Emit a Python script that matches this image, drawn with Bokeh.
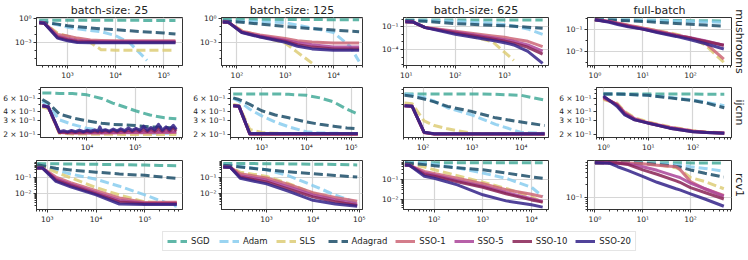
import numpy as np
from bokeh.plotting import figure
from bokeh.layouts import column, row
from bokeh.models import (Range1d, FixedTicker, CustomJSTickFormatter, Legend,
                          LegendItem, Title)
from bokeh.embed import file_html
from bokeh.resources import INLINE

METHODS = ["SGD", "Adam", "SLS", "Adagrad", "SSO-1", "SSO-5", "SSO-10", "SSO-20"]
DATASETS = ["mushrooms", "ijcnn", "rcv1"]
COL_TITLES = ["batch-size: 25", "batch-size: 125", "batch-size: 625", "full-batch"]

# ---------------- mushrooms ----------------
mush25_x = [260, 330, 620, 1000, 1600, 3000, 5000, 1e4, 2e4, 4.5e4, 1e5, 1.75e5]
mush25_y = {
    "SGD":     [0.58, 0.58, 0.58, 0.57, 0.57, 0.57, 0.56, 0.56, 0.56, 0.55, 0.55, 0.55],
    "Adam":    [0.4, 0.35, 0.16, 0.08, 0.05, 0.03, 0.022, 0.007, 8e-4, 6e-6, None, None],
    "SLS":     [0.28, 0.25, 0.015, 0.006, 0.0028, 0.001, 1.3e-4, 1.1e-4, 1.1e-4, 1.1e-4, 1.1e-4, 1.1e-4],
    "Adagrad": [0.34, 0.3, 0.19, 0.12, 0.09, 0.065, 0.05, 0.038, 0.028, 0.02, 0.015, 0.0115],
    "SSO-1":   [0.28, 0.26, 0.01, 0.0063, 0.0035, 0.002, 0.0018, 0.0017, 0.0017, 0.0017, 0.0017, 0.0017],
    "SSO-5":   [0.28, 0.25, 0.006, 0.003, 0.0018, 0.0014, 0.0013, 0.0013, 0.0013, 0.0013, 0.0013, 0.0013],
    "SSO-10":  [0.28, 0.25, 0.0045, 0.0022, 0.0013, 0.0012, 0.0011, 0.0011, 0.0011, 0.0011, 0.0011, 0.0011],
    "SSO-20":  [0.28, 0.25, 0.0035, 0.0016, 0.001, 9e-4, 9e-4, 9e-4, 9e-4, 9e-4, 9e-4, 9e-4],
}

mush125_x = [51, 66, 126, 300, 1000, 1800, 3600, 1e4, 2.2e4, 3.4e4]
mush125_y = {
    "SGD":     [0.7, 0.7, 0.7, 0.7, 0.69, 0.69, 0.69, 0.68, 0.68, 0.68],
    "Adam":    [0.45, 0.45, 0.42, 0.36, 0.29, 0.14, 0.063, 0.017, 3.3e-4, 4e-6],
    "SLS":     [0.35, 0.3, 0.03, 0.006, 8e-4, 5.5e-5, 2.5e-6, None, None, None],
    "Adagrad": [0.46, 0.44, 0.33, 0.19, 0.095, 0.07, 0.05, 0.034, 0.025, 0.021],
    "SSO-1":   [0.35, 0.33, 0.025, 0.008, 0.003, 0.0016, 0.0011, 8e-4, 8e-4, 8e-4],
    "SSO-5":   [0.35, 0.33, 0.02, 0.006, 0.0018, 9e-4, 5e-4, 2.6e-4, 2.5e-4, 2.5e-4],
    "SSO-10":  [0.35, 0.33, 0.018, 0.005, 0.0014, 5e-4, 2.5e-4, 1.5e-4, 1.45e-4, 1.45e-4],
    "SSO-20":  [0.35, 0.33, 0.017, 0.0045, 0.001, 3.2e-4, 1.5e-4, 1e-4, 1e-4, 1e-4],
}

mush625_x = [9.6, 13.5, 24.5, 100, 580, 1000, 1550, 3000, 6000]
mush625_y = {
    "SGD":     [0.75, 0.75, 0.75, 0.75, 0.74, 0.74, 0.73, 0.73, 0.72],
    "Adam":    [0.63, 0.62, 0.6, 0.5, 0.27, 0.19, 0.12, 0.05, 0.01],
    "SLS":     [0.45, 0.42, 0.08, 0.02, 0.001, 4.6e-5, 4e-6, None, None],
    "Adagrad": [0.63, 0.6, 0.5, 0.25, 0.15, 0.13, 0.11, 0.085, 0.063],
    "SSO-1":   [0.45, 0.42, 0.076, 0.025, 0.006, 0.004, 0.0025, 0.0012, 2.5e-4],
    "SSO-5":   [0.45, 0.42, 0.075, 0.02, 0.0035, 0.002, 0.0012, 4e-4, 6.3e-5],
    "SSO-10":  [0.45, 0.42, 0.075, 0.015, 0.0025, 0.0013, 7e-4, 2e-4, 2.5e-5],
    "SSO-20":  [0.45, 0.42, 0.075, 0.01, 0.0015, 8e-4, 4e-4, 6e-5, 1.6e-6],
}

mushfull_x = [1, 2, 3, 5, 10, 20, 50, 100, 200, 500]
mushfull_y = {
    "SGD":     [0.69, 0.68, 0.67, 0.66, 0.64, 0.62, 0.6, 0.58, 0.57, 0.55],
    "Adam":    [0.69, 0.68, 0.67, 0.65, 0.62, 0.58, 0.52, 0.48, 0.45, 0.42],
    "SLS":     [0.69, 0.5, 0.35, 0.22, 0.13, 0.075, 0.035, 0.016, 0.004, 1e-4],
    "Adagrad": [0.69, 0.66, 0.63, 0.58, 0.5, 0.42, 0.32, 0.27, 0.23, 0.19],
    "SSO-1":   [0.69, 0.5, 0.36, 0.23, 0.13, 0.07, 0.03, 0.016, 0.006, 2e-4],
    "SSO-5":   [0.69, 0.48, 0.33, 0.2, 0.11, 0.06, 0.028, 0.017, 0.009, 0.0035],
    "SSO-10":  [0.69, 0.46, 0.3, 0.18, 0.1, 0.055, 0.025, 0.015, 0.008, 0.0035],
    "SSO-20":  [0.69, 0.42, 0.26, 0.16, 0.1, 0.05, 0.022, 0.011, 0.005, 0.0016],
}

# ---------------- ijcnn ----------------
ijcnn25_x = [1200, 1600, 2700, 5000, 1e4, 2e4, 3.4e4, 6e4, 1e5, 2e5, 4e5, 7e5]
ijcnn25_y = {
    "SGD":     [0.71, 0.71, 0.7, 0.7, 0.67, 0.6, 0.52, 0.46, 0.41, 0.36, 0.33, 0.32],
    "Adam":    [0.55, 0.48, 0.31, 0.27, 0.24, 0.225, 0.22, 0.215, 0.21, 0.207, 0.205, 0.205],
    "SLS":     [0.46, 0.44, 0.205, 0.2, 0.2, 0.199, 0.199, 0.198, 0.198, 0.198, 0.198, 0.198],
    "Adagrad": [0.58, 0.52, 0.37, 0.33, 0.3, 0.28, 0.27, 0.265, 0.26, 0.25, 0.245, 0.24],
    "SSO-1":   [0.48, 0.46, 0.21, 0.206, 0.206, 0.207, 0.207, 0.208, 0.208, 0.209, 0.21, 0.21],
    "SSO-5":   [0.48, 0.46, 0.21, 0.208, 0.208, 0.209, 0.21, 0.211, 0.212, 0.213, 0.214, 0.215],
}
ijcnn25_xn = [1200, 1600, 2700, 3300, 4000, 4800, 5800, 7000, 8500, 1.0e4, 1.2e4, 1.45e4,
              1.7e4, 1.85e4, 2.0e4, 2.4e4, 2.9e4, 3.5e4, 4.2e4, 5.0e4, 6.0e4, 7.2e4, 8.6e4,
              1.03e5, 1.23e5, 1.48e5, 1.77e5, 2.1e5, 2.5e5, 3.0e5, 3.6e5, 4.3e5, 5.1e5, 6.1e5, 7.0e5]
ijcnn25_yn = {
    "SSO-10": [0.48, 0.46, 0.21, 0.214, 0.209, 0.216, 0.21, 0.215, 0.211, 0.218, 0.212, 0.219,
               0.213, 0.22, 0.212, 0.222, 0.213, 0.224, 0.214, 0.226, 0.215, 0.228, 0.216,
               0.23, 0.216, 0.232, 0.217, 0.233, 0.218, 0.236, 0.218, 0.238, 0.219, 0.24, 0.22],
    "SSO-20": [0.48, 0.46, 0.215, 0.222, 0.214, 0.224, 0.216, 0.226, 0.215, 0.225, 0.218, 0.228,
               0.22, 0.25, 0.222, 0.229, 0.219, 0.233, 0.221, 0.236, 0.222, 0.242, 0.224,
               0.238, 0.226, 0.255, 0.225, 0.245, 0.228, 0.27, 0.226, 0.25, 0.23, 0.262, 0.232],
}

ijcnn125_x = [230, 310, 540, 1000, 2000, 4000, 1e4, 2e4, 4e4, 8e4, 1.4e5]
ijcnn125_y = {
    "SGD":     [0.69, 0.69, 0.69, 0.69, 0.69, 0.68, 0.66, 0.61, 0.54, 0.43, 0.37],
    "Adam":    [0.6, 0.55, 0.43, 0.35, 0.29, 0.25, 0.215, 0.207, 0.205, 0.204, 0.204],
    "SLS":     [0.5, 0.48, 0.23, 0.21, 0.205, 0.203, 0.202, 0.201, 0.201, 0.201, 0.201],
    "Adagrad": [0.61, 0.58, 0.5, 0.41, 0.36, 0.33, 0.29, 0.27, 0.255, 0.242, 0.235],
    "SSO-1":   [0.48, 0.47, 0.2, 0.199, 0.199, 0.199, 0.199, 0.199, 0.199, 0.199, 0.199],
    "SSO-5":   [0.48, 0.47, 0.2, 0.2, 0.2, 0.2, 0.2, 0.2, 0.2, 0.2, 0.2],
    "SSO-10":  [0.48, 0.47, 0.201, 0.201, 0.201, 0.201, 0.201, 0.201, 0.201, 0.201, 0.201],
    "SSO-20":  [0.48, 0.47, 0.203, 0.203, 0.203, 0.203, 0.203, 0.203, 0.203, 0.203, 0.203],
}

ijcnn625_x = [42, 60, 105, 170, 316, 1000, 3000, 1e4, 3e4]
ijcnn625_y = {
    "SGD":     [0.69, 0.69, 0.69, 0.69, 0.69, 0.69, 0.68, 0.66, 0.57],
    "Adam":    [0.69, 0.67, 0.62, 0.55, 0.45, 0.36, 0.27, 0.21, 0.205],
    "SLS":     [0.52, 0.51, 0.3, 0.26, 0.235, 0.205, 0.202, 0.2, 0.2],
    "Adagrad": [0.66, 0.64, 0.59, 0.54, 0.47, 0.4, 0.33, 0.29, 0.26],
    "SSO-1":   [0.48, 0.47, 0.21, 0.2, 0.2, 0.2, 0.2, 0.2, 0.2],
    "SSO-5":   [0.48, 0.47, 0.21, 0.2, 0.2, 0.2, 0.2, 0.2, 0.2],
    "SSO-10":  [0.48, 0.47, 0.21, 0.201, 0.201, 0.201, 0.201, 0.201, 0.201],
    "SSO-20":  [0.48, 0.47, 0.212, 0.202, 0.202, 0.202, 0.202, 0.202, 0.202],
}

ijcnnfull_x = [1, 2, 3, 5, 10, 30, 100, 200, 500]
ijcnnfull_y = {
    "SGD":     [0.69, 0.69, 0.69, 0.69, 0.69, 0.69, 0.69, 0.68, 0.68],
    "Adam":    [0.69, 0.69, 0.68, 0.67, 0.66, 0.62, 0.57, 0.53, 0.48],
    "SLS":     [0.58, 0.52, 0.4, 0.33, 0.29, 0.25, 0.222, 0.213, 0.207],
    "Adagrad": [0.69, 0.69, 0.68, 0.67, 0.66, 0.61, 0.56, 0.52, 0.45],
    "SSO-1":   [0.6, 0.5, 0.39, 0.32, 0.285, 0.245, 0.22, 0.212, 0.207],
    "SSO-5":   [0.62, 0.5, 0.38, 0.32, 0.28, 0.245, 0.218, 0.21, 0.206],
    "SSO-10":  [0.63, 0.49, 0.37, 0.31, 0.28, 0.24, 0.215, 0.21, 0.205],
    "SSO-20":  [0.65, 0.47, 0.36, 0.31, 0.28, 0.24, 0.215, 0.21, 0.205],
}

# ---------------- rcv1 ----------------
rcv25_x = [620, 800, 1500, 3000, 1e4, 3e4, 1e5, 2e5, 4.5e5]
rcv25_y = {
    "SGD":     [0.74, 0.73, 0.72, 0.7, 0.67, 0.63, 0.6, 0.57, 0.54],
    "Adam":    [0.6, 0.55, 0.3, 0.17, 0.08, 0.03, 0.0087, 0.004, 0.0017],
    "SLS":     [0.55, 0.5, 0.22, 0.1, 0.025, 0.0087, 0.0032, 0.0029, 0.0028],
    "Adagrad": [0.63, 0.55, 0.38, 0.3, 0.22, 0.17, 0.14, 0.115, 0.09],
    "SSO-1":   [0.4, 0.39, 0.11, 0.05, 0.016, 0.0056, 0.003, 0.0031, 0.0031],
    "SSO-5":   [0.4, 0.39, 0.085, 0.04, 0.012, 0.004, 0.0027, 0.0027, 0.0027],
    "SSO-10":  [0.4, 0.39, 0.07, 0.033, 0.01, 0.0032, 0.0025, 0.0025, 0.0025],
    "SSO-20":  [0.4, 0.39, 0.06, 0.027, 0.0087, 0.0024, 0.0022, 0.0022, 0.0022],
}

rcv125_x = [117, 165, 270, 1000, 3000, 1e4, 3e4, 9e4]
rcv125_y = {
    "SGD":     [0.69, 0.69, 0.68, 0.67, 0.65, 0.62, 0.6, 0.56],
    "Adam":    [0.55, 0.53, 0.45, 0.28, 0.12, 0.03, 0.0079, 0.0025],
    "SLS":     [0.45, 0.4, 0.2, 0.11, 0.04, 0.01, 0.004, 0.0018],
    "Adagrad": [0.53, 0.5, 0.42, 0.28, 0.21, 0.16, 0.125, 0.1],
    "SSO-1":   [0.42, 0.4, 0.16, 0.087, 0.035, 0.011, 0.0055, 0.0032],
    "SSO-5":   [0.42, 0.4, 0.12, 0.065, 0.025, 0.008, 0.004, 0.0022],
    "SSO-10":  [0.42, 0.4, 0.1, 0.05, 0.018, 0.006, 0.003, 0.0018],
    "SSO-20":  [0.42, 0.4, 0.085, 0.038, 0.013, 0.0037, 0.0022, 0.0016],
}

rcv625_x = [25, 31, 63, 100, 300, 1000, 3000, 1e4, 1.7e4]
rcv625_y = {
    "SGD":     [0.65, 0.65, 0.65, 0.65, 0.65, 0.65, 0.65, 0.64, 0.64],
    "Adam":    [0.65, 0.64, 0.6, 0.55, 0.36, 0.2, 0.11, 0.04, 0.014],
    "SLS":     [0.6, 0.55, 0.4, 0.29, 0.15, 0.07, 0.035, 0.014, 0.007],
    "Adagrad": [0.65, 0.6, 0.52, 0.46, 0.36, 0.29, 0.2, 0.13, 0.11],
    "SSO-1":   [0.5, 0.48, 0.24, 0.19, 0.11, 0.059, 0.03, 0.018, 0.0135],
    "SSO-5":   [0.5, 0.48, 0.2, 0.16, 0.085, 0.045, 0.022, 0.011, 0.008],
    "SSO-10":  [0.5, 0.48, 0.17, 0.14, 0.075, 0.04, 0.019, 0.0095, 0.0074],
    "SSO-20":  [0.5, 0.48, 0.14, 0.11, 0.052, 0.017, 0.0085, 0.0055, 0.0042],
}

rcvfull_x = [1, 2, 3, 5, 10, 20, 50, 60, 100, 200, 500]
rcvfull_y = {
    "SGD":     [0.69, 0.69, 0.69, 0.69, 0.69, 0.69, 0.69, 0.69, 0.68, 0.68, 0.68],
    "Adam":    [0.69, 0.69, 0.69, 0.69, 0.68, 0.66, 0.61, 0.6, 0.55, 0.5, 0.43],
    "SLS":     [0.69, 0.69, 0.69, 0.68, 0.66, 0.62, 0.52, 0.47, 0.3, 0.24, 0.16],
    "Adagrad": [0.69, 0.69, 0.69, 0.68, 0.67, 0.63, 0.56, 0.54, 0.46, 0.38, 0.31],
    "SSO-1":   [0.69, 0.69, 0.69, 0.68, 0.65, 0.6, 0.55, 0.48, 0.24, 0.16, 0.11],
    "SSO-5":   [0.69, 0.69, 0.68, 0.64, 0.55, 0.45, 0.32, 0.3, 0.22, 0.16, 0.105],
    "SSO-10":  [0.69, 0.69, 0.67, 0.62, 0.46, 0.36, 0.25, 0.23, 0.17, 0.13, 0.09],
    "SSO-20":  [0.69, 0.67, 0.55, 0.44, 0.32, 0.23, 0.16, 0.15, 0.12, 0.09, 0.06],
}

# axis tick values (labels) per panel
x_ticks = [[1e3, 1e4, 1e5], [1e2, 1e3, 1e4], [1e1, 1e2, 1e3], [1, 10, 100],
           [1e4, 1e5], [1e3, 1e4, 1e5], [1e2, 1e3, 1e4], [1, 10, 100],
           [1e3, 1e4, 1e5], [1e3, 1e4, 1e5], [1e2, 1e3, 1e4], [1, 10, 100]]
y_ticks = [[1, 1e-3], [1, 1e-3], [1e-1, 1e-4], [1e-1, 1e-3],
           [0.2, 0.3, 0.4, 0.6], [0.2, 0.3, 0.4, 0.6], [], [0.2, 0.3, 0.4, 0.6],
           [1e-1, 1e-2], [1e-1, 1e-2], [1e-1, 1e-2], [1e-1]]

# ---------------- styling / layout ----------------
COLORS = {"SGD": "#44AA99", "Adam": "#88CCEE", "SLS": "#DDCC77", "Adagrad": "#1C4E68",
          "SSO-1": "#CC6677", "SSO-5": "#AA4499", "SSO-10": "#882255", "SSO-20": "#332288"}
DASHED = {"SGD", "Adam", "SLS", "Adagrad"}
FONT = "DejaVu Sans"

x_ranges = [(228, 2.45e5), (48, 4e4), (8.8, 7900), (0.7, 724),
            (1100, 9.4e5), (200, 1.78e5), (40, 3.6e4), (0.7, 724),
            (600, 5.9e5), (107, 1.17e5), (23.4, 2.24e4), (0.7, 724)]
y_ranges = [(1.4e-6, 1.26), (1.26e-6, 1.26), (8.3e-7, 1.58), (5.2e-5, 1.12),
            (0.18, 0.84), (0.18, 0.84), (0.18, 0.84), (0.18, 0.84),
            (1.1e-3, 1.15), (1e-3, 1.05), (3.2e-3, 0.83), (0.05, 0.78)]

panels = [
    (mush25_x, mush25_y, None, None), (mush125_x, mush125_y, None, None),
    (mush625_x, mush625_y, None, None), (mushfull_x, mushfull_y, None, None),
    (ijcnn25_x, ijcnn25_y, ijcnn25_xn, ijcnn25_yn), (ijcnn125_x, ijcnn125_y, None, None),
    (ijcnn625_x, ijcnn625_y, None, None), (ijcnnfull_x, ijcnnfull_y, None, None),
    (rcv25_x, rcv25_y, None, None), (rcv125_x, rcv125_y, None, None),
    (rcv625_x, rcv625_y, None, None), (rcvfull_x, rcvfull_y, None, None),
]

col_w = [190, 183, 183, 192]
col_ml = [36, 31, 30, 31]
col_mr = [8, 11, 8, 16]
row_h = [82, 72, 72]
row_mt = [16, 5, 6]
MB = 14

fmt = CustomJSTickFormatter(code="""
const sup = {"-": "\u207b", "0": "\u2070", "1": "\u00b9", "2": "\u00b2", "3": "\u00b3",
             "4": "\u2074", "5": "\u2075", "6": "\u2076", "7": "\u2077", "8": "\u2078", "9": "\u2079"};
const e = Math.floor(Math.log10(tick) + 1e-9);
const m = Math.round(tick / Math.pow(10, e));
const s = String(e).split("").map(c => sup[c]).join("");
return (m === 1 ? "" : m + " \u00d7 ") + "10" + s;
""")

minor_x = [m * 10.0 ** e for e in range(-1, 7) for m in range(2, 10)]
minor_row = [
    [10.0 ** e for e in range(-7, 2)],
    [0.5, 0.7, 0.8],
    [m * 10.0 ** e for e in range(-4, 1) for m in range(2, 10)],
]

rows = []
for r in range(3):
    figs = []
    for c in range(4):
        i = r * 4 + c
        xs, ys, xn, yn = panels[i]
        p = figure(width=col_w[c], height=row_h[r], x_axis_type="log", y_axis_type="log",
                   x_range=Range1d(*x_ranges[i]), y_range=Range1d(*y_ranges[i]),
                   output_backend="svg", toolbar_location=None, tools="",
                   min_border_left=col_ml[c], min_border_right=col_mr[c],
                   min_border_top=row_mt[r], min_border_bottom=MB,
                   title=COL_TITLES[c] if r == 0 else None)
        if r == 0:
            p.title.align = "center"
            p.title.text_font = FONT
            p.title.text_font_size = "11px"
            p.title.text_font_style = "normal"
            p.title.text_color = "#222222"
            p.title.standoff = 2
        if c == 3:
            p.add_layout(Title(text=DATASETS[r], align="center", text_font=FONT,
                               text_font_size="11px", text_font_style="normal",
                               text_color="#222222", standoff=2), "right")
        p.background_fill_color = "white"
        p.border_fill_color = "white"
        p.outline_line_color = "#333333"
        p.outline_line_width = 1

        for m in METHODS:
            if yn is not None and m in yn:
                x, y = xn, yn[m]
            else:
                x, y = xs, ys[m]
            kw = dict(line_color=COLORS[m], line_width=3, line_alpha=0.85,
                      line_join="round")
            if m in DASHED:
                kw["line_dash"] = "9 4"
            p.line(np.array(x, dtype=float), np.array(y, dtype=float), **kw)

        xt = FixedTicker(ticks=x_ticks[i], minor_ticks=minor_x)
        yt = FixedTicker(ticks=y_ticks[i], minor_ticks=minor_row[r])
        p.xaxis.ticker = xt
        p.yaxis.ticker = yt
        p.xgrid.ticker = FixedTicker(ticks=x_ticks[i])
        p.ygrid.ticker = FixedTicker(ticks=y_ticks[i] if r != 1 else [])
        for ax in (p.xaxis, p.yaxis):
            ax.formatter = fmt
            ax.major_label_text_font = FONT
            ax.major_label_text_font_size = "7.5px"
            ax.major_label_text_color = "#222222"
            ax.axis_line_color = "#333333"
            ax.major_tick_line_color = "#333333"
            ax.minor_tick_line_color = "#333333"
            ax.major_tick_out = 3
            ax.major_tick_in = 0
            ax.minor_tick_out = 2
            ax.minor_tick_in = 0
            ax.major_label_standoff = 2
        p.xgrid.grid_line_color = "#d6d6d6"
        p.ygrid.grid_line_color = "#d6d6d6"
        p.xgrid.grid_line_width = 1.2
        p.ygrid.grid_line_width = 1.2
        figs.append(p)
    rows.append(row(*figs))

# legend strip (proxy lines kept outside the visible range; only their swatches show)
lg = figure(width=748, height=30, x_range=Range1d(0, 1), y_range=Range1d(0, 1),
            output_backend="svg", toolbar_location=None, tools="",
            min_border_left=50, min_border_right=0, min_border_top=0, min_border_bottom=0)
lg.xaxis.visible = False
lg.yaxis.visible = False
lg.grid.visible = False
lg.outline_line_color = None
items = []
for m in METHODS:
    kw = dict(line_color=COLORS[m], line_width=3, line_alpha=0.85)
    if m in DASHED:
        kw["line_dash"] = "9 4"
    rr = lg.line([5, 6], [5, 6], **kw)
    items.append(LegendItem(label=m, renderers=[rr]))
leg = Legend(items=items, orientation="horizontal", location="center",
             label_text_font=FONT, label_text_font_size="8.5px", label_text_color="#222222",
             glyph_width=20, glyph_height=10, label_standoff=4, spacing=8,
             padding=4, margin=0, border_line_color="#cccccc", border_line_width=1,
             background_fill_color="white")
lg.add_layout(leg, "center")

layout = column(*rows, lg)
open("out.html", "w").write(file_html(layout, INLINE))
